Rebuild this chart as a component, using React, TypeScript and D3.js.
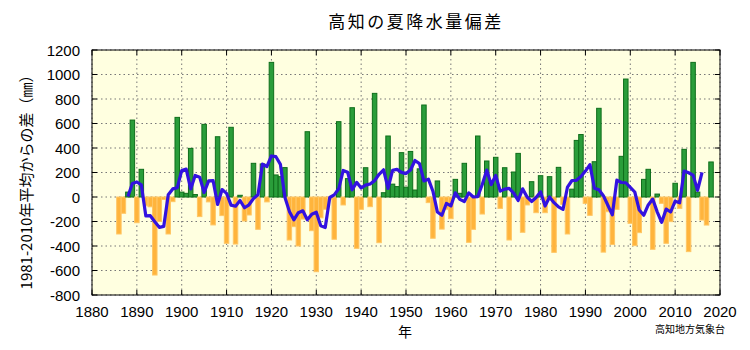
import { useEffect } from "react"
import * as d3 from "d3"

// 高知 夏(6-8月)降水量 1981-2010年平均からの差 (mm)
const firstYear = 1886
const anomaly = [
  -302, -133, 40, 628,
  -210, 226, -72, -80, -637, -200, -20, -302, -38, 650,
  40, 30, 397, 20, -160, 593, -40, -228, 492, -152,
  -378, 569, -384, 14, -196, -147, 275, -264, 270, -40,
  1099, 180, 166, 240, -351, -242, -400, -180, 533, -275,
  -610, -170, -100, -20, -345, 615, -65, 150, 729, -419,
  -101, 239, -79, 846, -373, 35, 498, 105, 85, 362,
  80, 372, 57, 230, 751, -46, -337, 131, -262, -100,
  -177, 144, 30, 275, -370, -264, 498, -139, 294, 120,
  324, -93, 239, -351, 204, 356, -288, -65, 125, -128,
  174, -128, 166, -452, 242, -60, -302, 64, 462, 510,
  -52, -150, 288, 724, -450, -120, -388, -101, 332, 963,
  -215, -397, -291, 144, 226, -427, 24, -52, -378, -201,
  112, -93, 389, -446, 1099, 40, -188, -229, 286,
]
const years = anomaly.map((_, i) => firstYear + i)
const xTicks = d3.range(1880, 2021, 10)
const yTicks = d3.range(-800, 1201, 200)

const title = "高知の夏降水量偏差"
const yLabel = "1981-2010年平均からの差（㎜）"
const xLabel = "年"
const source = "高知地方気象台"

export default function App() {
  useEffect(() => {
    document.body.style.margin = "0"
  }, [])

  const width = 750
  const height = 350
  const plot = { left: 92, right: 720, top: 50, bottom: 295 }

  const x = d3.scaleLinear().domain([1880, 2020]).range([plot.left, plot.right])
  const y = d3.scaleLinear().domain([-800, 1200]).range([plot.bottom, plot.top])
  const bw = x(1881) - x(1880)

  // 5年移動平均
  const smooth = years.slice(2, -2).map((yr, i) => ({
    year: yr,
    value: d3.mean(anomaly.slice(i, i + 5)) as number,
  }))
  const line = d3
    .line<{ year: number; value: number }>()
    .x((d) => x(d.year))
    .y((d) => y(d.value))

  const tickFont = "'Liberation Sans', Arial, sans-serif"
  const jpFont = "'Noto Sans CJK JP', sans-serif"

  return (
    <svg width={width} height={height} style={{ display: "block" }}>
      <rect x={0} y={0} width={width} height={height} fill="#fff" />
      <rect
        x={plot.left}
        y={plot.top}
        width={plot.right - plot.left}
        height={plot.bottom - plot.top}
        fill="#ffffe0"
      />

      {/* grid */}
      {yTicks.map((t) => (
        <line
          key={"gy" + t}
          x1={plot.left}
          x2={plot.right}
          y1={y(t)}
          y2={y(t)}
          stroke="#777"
          strokeWidth={1}
          strokeDasharray="1.5,3"
        />
      ))}
      {xTicks.map((t) => (
        <line
          key={"gx" + t}
          x1={x(t)}
          x2={x(t)}
          y1={plot.top}
          y2={plot.bottom}
          stroke="#777"
          strokeWidth={1}
          strokeDasharray="1.5,3"
        />
      ))}

      {/* bars */}
      {years.map((yr, i) => {
        const v = anomaly[i]
        const pos = v >= 0
        return (
          <rect
            key={yr}
            x={x(yr) - bw / 2}
            y={pos ? y(v) : y(0)}
            width={bw}
            height={Math.abs(y(v) - y(0))}
            fill={pos ? "#2a9d3a" : "#ffb43c"}
            stroke={pos ? "#0f6e1b" : "#ffc766"}
            strokeWidth={1}
          />
        )
      })}

      {/* running mean */}
      <path d={line(smooth) ?? ""} fill="none" stroke="#3312e0" strokeWidth={3.2} strokeLinejoin="round" />

      {/* frame and ticks */}
      <rect
        x={plot.left}
        y={plot.top}
        width={plot.right - plot.left}
        height={plot.bottom - plot.top}
        fill="none"
        stroke="#000"
        strokeWidth={1}
      />
      {xTicks.map((t) => (
        <g key={"tx" + t}>
          <line x1={x(t)} x2={x(t)} y1={plot.bottom} y2={plot.bottom - 5} stroke="#000" />
          <line x1={x(t)} x2={x(t)} y1={plot.top} y2={plot.top + 5} stroke="#000" />
          <text
            x={x(t)}
            y={317}
            textAnchor="middle"
            fontFamily={tickFont}
            fontSize={15}
            fill="#000"
          >
            {t}
          </text>
        </g>
      ))}
      {yTicks.map((t) => (
        <g key={"ty" + t}>
          <line x1={plot.left} x2={plot.left + 5} y1={y(t)} y2={y(t)} stroke="#000" />
          <line x1={plot.right} x2={plot.right - 5} y1={y(t)} y2={y(t)} stroke="#000" />
          <text
            x={80}
            y={y(t) + 5.5}
            textAnchor="end"
            fontFamily={tickFont}
            fontSize={15}
            fill="#000"
          >
            {t}
          </text>
        </g>
      ))}

      {/* texts */}
      <text x={416} y={28} textAnchor="middle" fontFamily={jpFont} fontSize={17} letterSpacing={2.5} fill="#000">
        {title}
      </text>
      <text
        transform={`translate(32,${(plot.top + plot.bottom) / 2 + 6}) rotate(-90)`}
        textAnchor="middle"
        fontFamily={jpFont}
        fontSize={15}
        fill="#000"
      >
        {yLabel}
      </text>
      <text x={405} y={337} textAnchor="middle" fontFamily={jpFont} fontSize={14} fill="#000">
        {xLabel}
      </text>
      <text x={725} y={333} textAnchor="end" fontFamily={jpFont} fontSize={10} fill="#000">
        {source}
      </text>
    </svg>
  )
}
